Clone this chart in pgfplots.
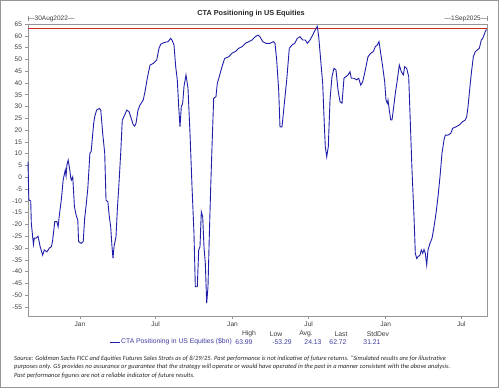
\documentclass[border=0pt]{standalone}
\usepackage{pgfplots}
\pgfplotsset{compat=1.18}
\usepackage{fontspec}
\setmainfont{Liberation Sans}
\newfontfamily\notefont{Carlito}
\definecolor{ctablue}{RGB}{30,30,170}
\definecolor{ctared}{RGB}{205,45,40}
\definecolor{framegray}{RGB}{150,150,150}
\definecolor{txtgray}{RGB}{60,60,60}
\definecolor{legblue}{RGB}{60,60,160}
\begin{document}
\begin{tikzpicture}[x=1pt,y=1pt]
\useasboundingbox (0,0) rectangle (499,388);
\draw[framegray,line width=0.8pt] (0.6,0.6) rectangle (498.4,387.4);
\begin{axis}[
  at={(28pt,72pt)}, anchor=south west,
  scale only axis, width=459.3pt, height=292pt,
  xmin=0, xmax=1098, ymin=-58.8, ymax=65,
  axis line style={framegray,line width=0.6pt},
  tick style={framegray,line width=0.5pt},
  tick align=outside, major tick length=3pt,
  xtick={124,305,489,671,855,1036},
  xticklabels={Jan,Jul,Jan,Jul,Jan,Jul},
  ytick={-55,-50,...,65},
  xtick pos=bottom, ytick pos=left,
  ticklabel style={font=\fontsize{6.6}{7}\selectfont, text=txtgray},
  /pgf/number format/assume math mode=true,
  xticklabel style={yshift=1pt},
  yticklabel style={xshift=0.5pt},
  clip=false,
]
\addplot[ctared, line width=1pt] coordinates {(0,62.9) (1098,62.9)};
\addplot[ctablue, line width=0.9pt] coordinates {
(0,6.6)(2,-9.6)(6.5,-10)(7.9,-19.4)(11,-25)(13,-28.5)(15,-25.8)(19,-25.8)(24,-25)(29,-29.4)(35,-33)(39,-30.8)(45,-31.6)(51,-30)(56,-29.4)(59,-26.6)(64,-18.8)(69,-18.8)(72,-21)(75,-16)(80,-9)(84,-1.2)(89,3.1)(91,0.5)(93,5.2)(96,7.3)(100,3.1)(102,0)(103.5,-1.2)(107,0.2)(111,-12.5)(115,-16)(119,-18.1)(121,-27.3)(127,-28)(132,-27.3)(135.5,-17.4)(139,-11.8)(143,-4.7)(148,10.2)(151,10.9)(157,22.9)(159.5,25.7)(164,28.5)(170.5,29.2)(174,28.5)(178.6,18.6)(183.4,10.2)(186.5,-9.6)(191,-10.4)(194.4,-16.7)(197.7,-21)(200.8,-29.4)(203.2,-34.4)(205.6,-29.4)(210.4,-25.2)(213.5,-13.9)(217.5,-2.6)(221.6,10.2)(225.4,24.3)(231.2,26.4)(236,28.5)(241.5,27.8)(245.5,25.7)(251.7,22.2)(255.1,21.7)(258.2,22.9)(263,28.5)(267.7,30.6)(275.6,32.8)(280.4,37)(285.2,42)(291.7,47.6)(299.5,48.3)(307.7,49.7)(313.2,54.7)(317.2,56.4)(325.1,57.1)(334.7,57.5)(341.1,58.9)(344.2,58.2)(349,56.1)(353.1,46.9)(356.9,41.3)(360.3,29.9)(363.4,21.4)(366.5,29.9)(369.8,31.4)(372.9,38.4)(377.7,43.4)(382.5,37.7)(387.3,18.6)(392.1,-4)(396.8,-23.8)(400,-46.4)(404.7,-46.4)(408.1,-30.8)(411.2,-29.4)(414.3,-14.6)(417.6,-16.7)(420.7,-29.4)(423.9,-36.5)(427.2,-53.3)(430.3,-46.4)(433.4,-25.2)(436.8,-4)(439.9,13)(443.9,33.5)(449.4,34.2)(452.5,39.8)(457.3,42.7)(463.8,46.9)(470.2,50.4)(479.8,51.1)(487.7,52.6)(495.6,53.3)(503.7,54.7)(511.6,55.4)(519.5,56.8)(527.6,57.5)(535.5,58.2)(543.4,59.6)(549.8,60.3)(554.6,59.6)(561.1,57.5)(569,56.8)(578.5,56.8)(586.4,57.5)(590.5,56.8)(594.5,49.7)(599.3,37)(602.4,21.4)(607.2,21.4)(612,29.9)(618.5,41.3)(624.7,54.7)(631.1,56.1)(637.6,56.8)(643.8,58.9)(650.2,59.6)(656.7,58.2)(662.9,58.2)(667.7,56.8)(674.2,58.2)(680.6,60.3)(686.8,62.5)(691.6,63.99)(695,59.6)(699.7,49.7)(704.5,39.8)(707.6,25.7)(710.7,13)(714.1,8.7)(717.9,13)(722,32.8)(726.7,42.7)(731.5,46.2)(736.3,45.5)(741.1,37)(745.9,32.1)(750.7,31.4)(755.4,42)(760.2,42.7)(765,43.4)(769.8,44.8)(772.9,42)(779.4,42)(785.8,41.3)(790.6,42)(795.4,39.1)(800.2,40.5)(806.4,45.5)(812.8,51.1)(819.3,52.6)(825.5,53.3)(830.3,55.4)(835,56.1)(839.1,57.5)(843.2,52.6)(847.9,46.9)(852.7,40.5)(855.8,32.8)(858.9,31.4)(860.6,32.8)(863.7,28.5)(867.1,24.3)(870.2,24.3)(873.3,28.5)(878.1,35.6)(882.9,41.3)(887.7,47.6)(892.4,44.8)(897.2,43.4)(900.5,46.9)(905.3,46.2)(910.1,42.7)(913.2,27.1)(918,3.1)(922.8,-16.7)(925.9,-32.2)(929.2,-34.4)(932.3,-33.7)(937.1,-33)(940.2,-30.8)(943.6,-32.2)(946.7,-30.6)(949.8,-32.2)(953.1,-37.2)(956.2,-30.8)(961,-28)(965.8,-25.9)(970.6,-21)(975.4,-15.3)(980.2,-8.2)(984.9,0.2)(989.7,10.2)(994.5,15.8)(997.6,17.9)(1004.1,17.9)(1010.5,18.6)(1015.3,20.8)(1023.2,21.4)(1031.1,22.2)(1039.2,23.6)(1045.4,24.3)(1048.8,25.7)(1051.9,29.9)(1055,35.6)(1059.8,44.1)(1064.6,51.1)(1069.4,53.3)(1074.1,54)(1078.9,54.7)(1083.7,58.2)(1087,58.9)(1090.1,60.3)(1093.2,61.7)(1096,62.72)
};
\end{axis}
% title
\node[font=\fontsize{7.3}{8}\selectfont\bfseries, text=black!85] at (251,374) {CTA Positioning in US Equities};
% date markers
\draw[framegray,line width=0.5pt] (28,366.5) -- (28,371.5);
\node[anchor=west, inner sep=0pt, font=\fontsize{6.5}{7}\selectfont, text=txtgray] at (28,369) {---30Aug2022---};
\draw[framegray,line width=0.5pt] (487.5,366.5) -- (487.5,371.5);
\node[anchor=east, inner sep=0pt, font=\fontsize{6.5}{7}\selectfont, text=txtgray] at (487.5,369) {---1Sep2025---};
% legend
\begin{scope}[font=\fontsize{6.8}{7.5}\selectfont]
\node[text=txtgray] at (249,54) {High};
\node[text=txtgray] at (276,54) {Low};
\node[text=txtgray] at (306,54) {Avg.};
\node[text=txtgray] at (341,54) {Last};
\node[text=txtgray] at (378,54) {StdDev};
\draw[ctablue,line width=0.9pt] (110,46) -- (120,46);
\node[anchor=west, inner sep=0.5pt, text=legblue] at (120.5,46) {CTA Positioning in US Equities (\$bn)};
\node[text=legblue] at (244,46) {63.99};
\node[text=legblue] at (282,46) {-53.29};
\node[text=legblue] at (313,46) {24.13};
\node[text=legblue] at (338,46) {62.72};
\node[text=legblue] at (372,46) {31.21};
\end{scope}
% footnote
\begin{scope}[font=\notefont\itshape\fontsize{6.45}{7}\selectfont]
\node[anchor=west, inner sep=0pt, text=black!85] at (14,29.5) {Source: Goldman Sachs FICC and Equities Futures Sales Strats as of 8/29/25. Past performance is not indicative of future returns. “Simulated results are for illustrative};
\node[anchor=west, inner sep=0pt, text=black!85] at (14,21) {purposes only. GS provides no assurance or guarantee that the strategy will operate or would have operated in the past in a manner consistent with the above analysis.};
\node[anchor=west, inner sep=0pt, text=black!85] at (14,12.5) {Past performance figures are not a reliable indicator of future results.};
\end{scope}
\end{tikzpicture}
\end{document}
